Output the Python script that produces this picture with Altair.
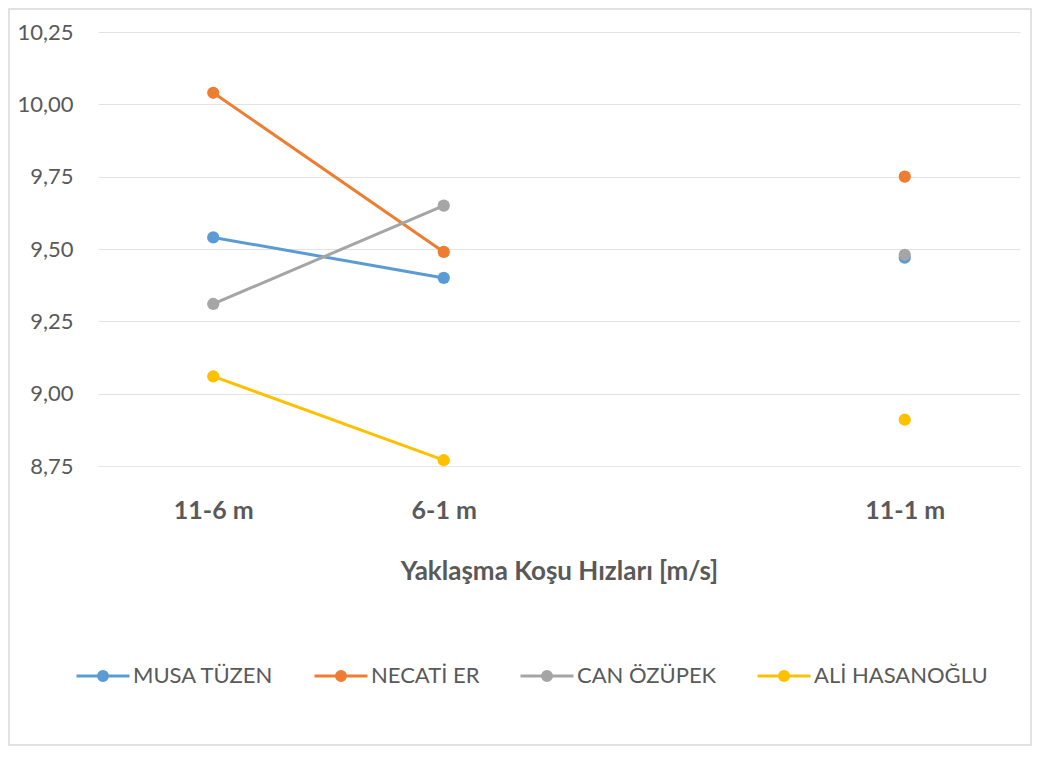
import altair as alt
import pandas as pd

categories = ["11-6 m", "6-1 m", " ", "11-1 m"]
measured = ["11-6 m", "6-1 m", "11-1 m"]
athletes = ["MUSA TÜZEN", "NECATİ ER", "CAN ÖZÜPEK", "ALİ HASANOĞLU"]
colors = ["#5B9BD5", "#ED7D31", "#A5A5A5", "#FFC000"]
musa = [9.54, 9.40, 9.47]
necati = [10.04, 9.49, 9.75]
can = [9.31, 9.65, 9.48]
ali = [9.06, 8.77, 8.91]
y_ticks = [8.75, 9.00, 9.25, 9.50, 9.75, 10.00, 10.25]

rows = []
for name, vals in zip(athletes, [musa, necati, can, ali]):
    for cat, v in zip(measured, vals):
        rows.append({"name": name, "cat": cat, "value": v})
df = pd.DataFrame(rows)

FONT = "Lato"
TXT = "#595959"
W, H = 922, 434
PL, PT, PR, PB = 90, 24, 12, 280

xenc = alt.X("cat:N", scale=alt.Scale(domain=categories, type="point", padding=0.5),
             axis=alt.Axis(title="Yaklaşma Koşu Hızları [m/s]", labelFontSize=25, labelFontWeight="bold",
                           labelColor=TXT, labelFont=FONT, labelPadding=32, ticks=False,
                           domain=True, domainColor="#e6e6e6", grid=False, labelAngle=0,
                           titleFont=FONT, titleFontSize=26, titleFontWeight="bold", titleColor=TXT,
                           titlePadding=35))
yenc = alt.Y("value:Q", scale=alt.Scale(domain=[8.75, 10.25], nice=False, zero=False),
             axis=alt.Axis(title=None, values=y_ticks, labelFontSize=22, labelColor=TXT, labelFont=FONT,
                           labelPadding=25, ticks=False, domain=False, gridColor="#e3e3e3",
                           labelExpr="replace(format(datum.value, '.2f'), '.', ',')"))

cscale = alt.Scale(domain=athletes, range=colors)
legend = alt.Legend(title=None, orient="none", legendX=-23, legendY=616, direction="horizontal",
                    columns=4, labelFontSize=22, labelColor=TXT, labelFont=FONT, columnPadding=34,
                    labelLimit=400,
                    symbolType="M-1,0L1,0M0.17,0A0.17,0.17,0,1,1,-0.17,0A0.17,0.17,0,1,1,0.17,0Z",
                    symbolSize=2809, symbolStrokeWidth=3, labelOffset=2)

lines = alt.Chart(df).transform_filter(
    alt.FieldOneOfPredicate(field="cat", oneOf=["11-6 m", "6-1 m"])
).mark_line(strokeWidth=3).encode(
    x=xenc, y=yenc,
    stroke=alt.Stroke("name:N", scale=cscale, legend=legend),
    detail="name:N",
)
points = alt.Chart(df).mark_point(filled=True, size=150, opacity=1).encode(
    x=xenc, y=yenc,
    fill=alt.Fill("name:N", scale=cscale, legend=legend),
)
border = alt.Chart(pd.DataFrame({"a": [0]})).mark_rect(fill=None, stroke="#d9d9d9", strokeWidth=1.5).encode(
    x=alt.value(-PL + 1), x2=alt.value(W + PR - 1), y=alt.value(-PT + 1), y2=alt.value(H + PB - 1)
)

chart = alt.layer(border, lines, points).properties(
    width=W, height=H, autosize="none",
    padding={"left": PL, "top": PT, "right": PR, "bottom": PB},
).configure_view(stroke=None)

chart.save("out.html", embed_options={"renderer": "svg", "actions": False})
